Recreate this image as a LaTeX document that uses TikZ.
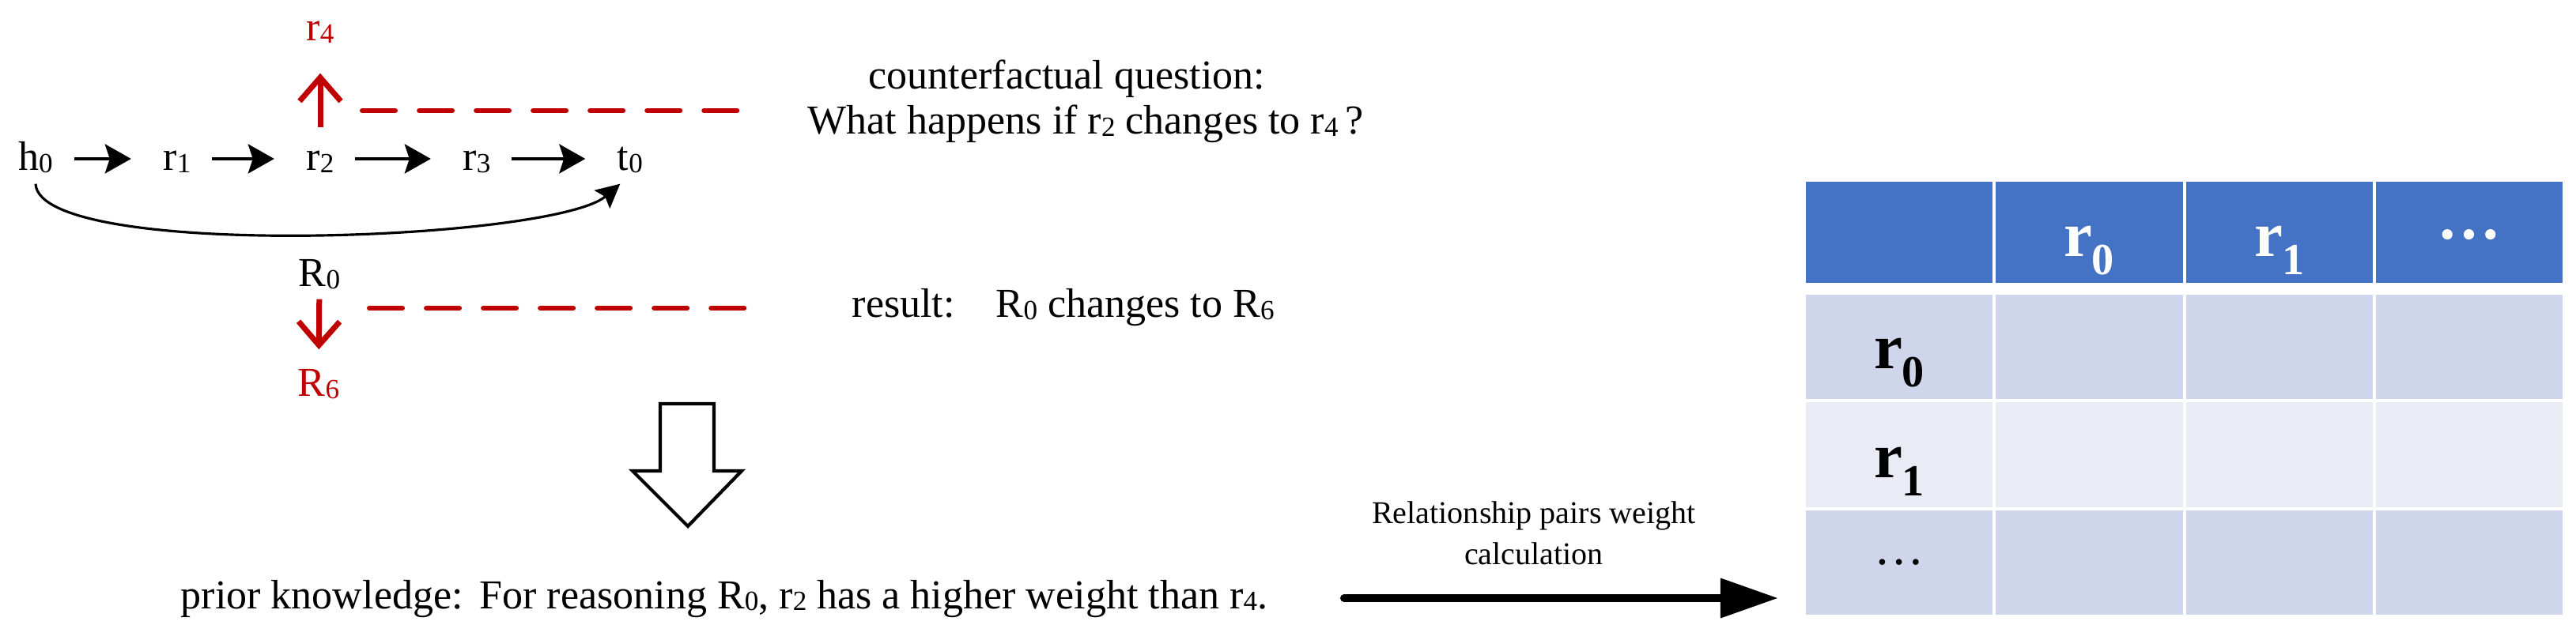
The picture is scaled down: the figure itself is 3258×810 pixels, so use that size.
\documentclass[tikz,border=0pt]{standalone}
\usepackage{fontspec}
\setmainfont{Liberation Serif}
\usetikzlibrary{arrows.meta}

\definecolor{cfred}{HTML}{C00000}
\definecolor{headblue}{HTML}{4472C4}
\definecolor{rowdark}{HTML}{CFD5EA}
\definecolor{rowlight}{HTML}{E9EBF5}

\newcommand{\lowidx}[1]{\raisebox{-0.1ex}{\fontsize{10}{10}\selectfont #1}}
\newcommand{\tabidx}[1]{\raisebox{-0.28em}{\fontsize{16}{16}\selectfont #1}}

\tikzset{
  plain/.style={font=\fontsize{14.8}{18}\selectfont, inner sep=0pt},
  lbl/.style={plain, anchor=base, text height=0.3cm, text depth=0pt},
  redlbl/.style={lbl, text=cfred},
  chainarrow/.style={line width=0.95pt, -{Stealth[length=0.33cm, width=0.37cm, inset=0.06cm]}, shorten <=0.26cm, shorten >=0.4cm},
  curvearrow/.style={line width=0.9pt, -{Stealth[length=0.3cm, width=0.3cm, inset=0.05cm]}},
  redarrow/.style={cfred, line width=0.07cm, -{Straight Barb[length=0.3cm, width=0.52cm]}},
  guide/.style={cfred, line width=0.06cm, line cap=round, dash pattern=on 0.42cm off 0.3cm},
  bigarrow/.style={draw=black, fill=white, line width=1.2pt},
  calcarrow/.style={line width=0.1cm, line cap=round, -{Triangle[length=0.73cm, width=0.48cm]}},
  cellhd/.style={text=white, font=\fontsize{23}{23}\selectfont\bfseries, inner sep=0pt},
  cellrow/.style={text=black, font=\fontsize{23}{23}\selectfont\bfseries, inner sep=0pt}
}

\begin{document}
\begin{tikzpicture}[x=0.01cm, y=-0.01cm]
\useasboundingbox (0,0) rectangle (3258,810);

\def\yc{216}
\def\xh{45}
\def\xa{224}
\def\xb{405}
\def\xc{603}
\def\xt{797}

\def\tl{2282}
\def\cw{240.25}
\def\rh{136.3}

\node[lbl] (h0) at (\xh,\yc) {h\lowidx{0}};
\node[lbl] (r1) at (\xa,\yc) {r\lowidx{1}};
\node[lbl] (r2) at (\xb,\yc) {r\lowidx{2}};
\node[lbl] (r3) at (\xc,\yc) {r\lowidx{3}};
\node[lbl] (t0) at (\xt,\yc) {t\lowidx{0}};

\draw[chainarrow] (h0) -- (r1);
\draw[chainarrow] (r1) -- (r2);
\draw[chainarrow] (r2) -- (r3);
\draw[chainarrow] (r3) -- (t0);
\draw[curvearrow] ([yshift=-0.16cm]h0.south) .. controls (50,330) and (700,305) .. ([xshift=0.04cm,yshift=-0.16cm]t0.south west);

\node[redlbl] (r4) at (\xb,52) {r\lowidx{4}};
\node[lbl] (R0) at (404,363) {R\lowidx{0}};
\node[redlbl] (R6) at (403,502) {R\lowidx{6}};

\draw[redarrow, shorten <=0.24cm, shorten >=0.4cm] (r2) -- (r4);
\draw[redarrow, shorten <=0.15cm, shorten >=0.29cm] (R0) -- (R6);

\draw[guide] (458,140) -- (939,140);
\draw[guide] (467,390) -- (949,390);

\node[plain, anchor=base west] (cfq) at (1098,113) {counterfactual question:};
\node[plain, anchor=base west] (what) at (1021,170) {What happens if r\lowidx{2} changes to r\lowidx{4}\,?};
\node[plain, anchor=base west] (result) at (1077,402) {result:\quad R\lowidx{0} changes to R\lowidx{6}};

\draw[bigarrow] (835,511) -- (903,511) -- (903,596) -- (938,596) -- (870,666) -- (800,596) -- (835,596) -- cycle;

\node[plain, anchor=base west] (prior) at (228,770) {prior knowledge:\hspace{0.4em}For reasoning R\lowidx{0}, r\lowidx{2} has a higher weight than r\lowidx{4}.};

\node[font=\fontsize{11.4}{12.2}\selectfont, align=center, inner sep=0pt] (calclbl) at (1940,675) {Relationship pairs weight\\[2.5pt]calculation};
\coordinate (calcstart) at (1700,757);
\coordinate (calcend) at (2249,757);
\draw[calcarrow] (calcstart) -- (calcend);

\foreach \i in {0,...,3}
  \filldraw[fill=headblue, draw=white, line width=0.04cm] (\tl+\cw*\i,228) rectangle ++(\cw,132);
\foreach \j/\c in {0/rowdark,1/rowlight,2/rowdark}
  \foreach \i in {0,...,3}
    \filldraw[fill=\c, draw=white, line width=0.04cm] (\tl+\cw*\i,371+\rh*\j) rectangle ++(\cw,\rh);

\node[cellhd, anchor=base] (hd0) at (2642,325) {r\tabidx{0}};
\node[cellhd, anchor=base] (hd1) at (2883,325) {r\tabidx{1}};
\node[cellhd] (hddots) at (3123,297) {\ldots};

\node[cellrow, anchor=base] (rw0) at (2402,467) {r\tabidx{0}};
\node[cellrow, anchor=base] (rw1) at (2402,605) {r\tabidx{1}};
\node[font=\fontsize{18}{18}\selectfont, inner sep=0pt] (rwdots) at (2402,712) {\ldots};

\end{tikzpicture}
\end{document}
